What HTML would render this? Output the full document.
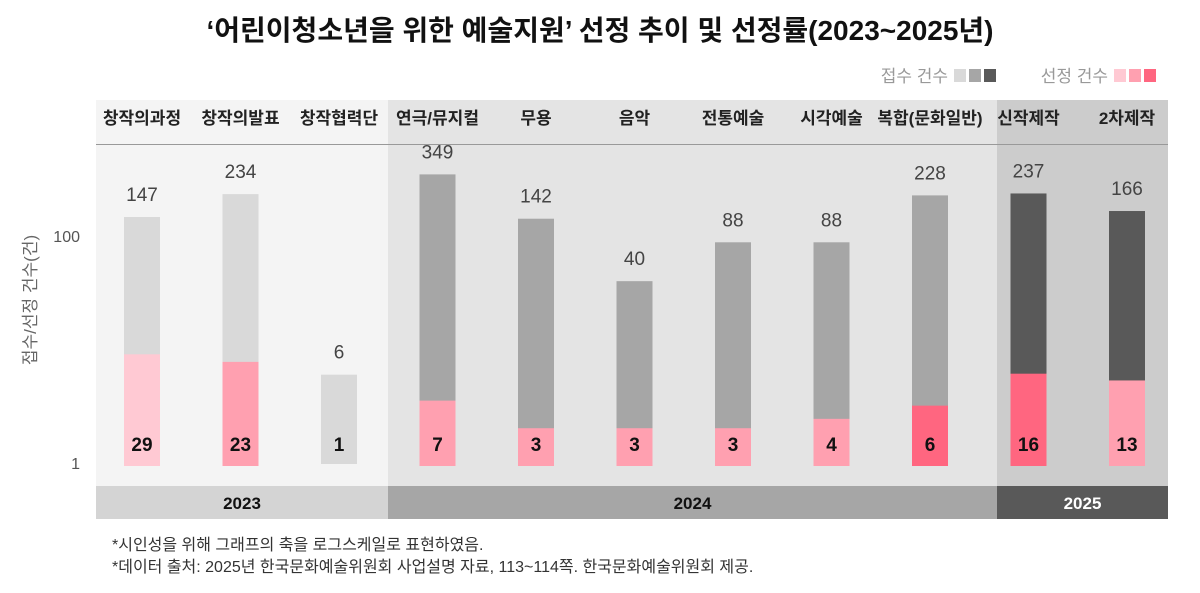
<!DOCTYPE html>
<html><head><meta charset="utf-8">
<style>
body{margin:0;background:#fff;width:1200px;height:588px;overflow:hidden;font-family:"Liberation Sans","Noto Sans CJK KR",sans-serif;}
svg text{font-family:"Liberation Sans","Noto Sans CJK KR",sans-serif;}
</style></head><body>
<svg id="chart" width="1200" height="588" viewBox="0 0 1200 588" xmlns="http://www.w3.org/2000/svg">
<text x="600" y="40" text-anchor="middle" font-size="28" font-weight="bold" fill="#111">‘어린이청소년을 위한 예술지원’ 선정 추이 및 선정률(2023~2025년)</text>
<g>
<text x="948" y="82" text-anchor="end" font-size="17" fill="#999">접수 건수</text>
<rect x="954" y="69" width="12" height="13" fill="#d9d9d9"/><rect x="969" y="69" width="12" height="13" fill="#a6a6a6"/><rect x="984" y="69" width="12" height="13" fill="#595959"/>
<text x="1108" y="82" text-anchor="end" font-size="17" fill="#999">선정 건수</text>
<rect x="1114" y="69" width="12" height="13" fill="#ffc9d3"/><rect x="1129" y="69" width="12" height="13" fill="#ffa0b0"/><rect x="1144" y="69" width="12" height="13" fill="#ff6680"/>
</g>
<g id="bg"></g>
<line x1="96" y1="144.5" x2="1168" y2="144.5" stroke="#999" stroke-width="1"/>
<g id="marks"></g>
<text transform="translate(36,300) rotate(-90)" text-anchor="middle" font-size="17" fill="#666">접수/선정 건수(건)</text>
<text x="112" y="550" font-size="16" fill="#333">*시인성을 위해 그래프의 축을 로그스케일로 표현하였음.</text>
<text x="112" y="572" font-size="16" fill="#333">*데이터 출처: 2025년 한국문화예술위원회 사업설명 자료, 113~114쪽. 한국문화예술위원회 제공.</text>
</svg>
<script>
const categories=["창작의과정","창작의발표","창작협력단","연극/뮤지컬","무용","음악","전통예술","시각예술","복합(문화일반)","신작제작","2차제작"];
const years=["2023","2023","2023","2024","2024","2024","2024","2024","2024","2025","2025"];
const receipts=[147,234,6,349,142,40,88,88,228,237,166];
const selected=[29,23,1,7,3,3,3,4,6,16,13];
const selTone=[0,1,0,1,1,1,1,1,2,2,1];
const yTicks=[1,100];
const NS="http://www.w3.org/2000/svg";
const xC=i=>142+98.5*i;
const yR=v=>463-113.5*Math.log10(v);
const selH=v=>v<=1?0:75*Math.log10(v)+2;
const panelEdges={"2023":[96,388],"2024":[388,997],"2025":[997,1168]};
const yearBg={"2023":"#f4f4f4","2024":"#e4e4e4","2025":"#cccccc"};
const yearBar={"2023":"#d4d4d4","2024":"#a6a6a6","2025":"#595959"};
const yearText={"2023":"#111","2024":"#111","2025":"#fff"};
const recCol={"2023":"#d9d9d9","2024":"#a6a6a6","2025":"#595959"};
const pinks=["#ffc9d3","#ffa0b0","#ff6680"];
function mk(t,a,p,txt){const e=document.createElementNS(NS,t);for(const k in a)e.setAttribute(k,a[k]);if(txt!==undefined)e.textContent=txt;p.appendChild(e);return e;}
const bg=document.getElementById('bg'),g=document.getElementById('marks');
Object.keys(panelEdges).forEach(y=>{
  const xa=panelEdges[y][0],w=panelEdges[y][1]-xa;
  const r=mk('rect',{x:xa,y:100,width:w,height:386,fill:yearBg[y]},bg);
  
  
  const b=mk('rect',{x:xa,y:486,width:w,height:33,fill:yearBar[y]},bg);
  
  
  const t=mk('text',{x:xa+w/2,y:509,'text-anchor':'middle','font-size':17,'font-weight':'bold',fill:yearText[y]},bg,y);
  
  
});
yTicks.forEach(v=>{const t=mk('text',{x:80,y:yR(v)+6,'text-anchor':'end','font-size':16,fill:'#555'},g,String(v));
  
  });
const bw=36;
categories.forEach((c,i)=>{
  const cx=xC(i);
  const h=mk('text',{x:cx,y:124,'text-anchor':'middle','font-size':17,'font-weight':'bold',fill:'#222'},g,c);
  
  
  const top=yR(receipts[i]);
  const r=mk('rect',{x:cx-bw/2,y:top,width:bw,height:464-top,fill:recCol[years[i]]},g);
  
  
  const sh=selH(selected[i]);
  if(sh>0){const p=mk('rect',{x:cx-bw/2,y:466-sh,width:bw,height:sh,fill:pinks[selTone[i]]},g);
    
    }
  const rl=mk('text',{x:cx,y:top-16,'text-anchor':'middle','font-size':19,fill:'#444'},g,String(receipts[i]));
  
  
  const sl=mk('text',{x:cx,y:451,'text-anchor':'middle','font-size':19,'font-weight':'bold',fill:'#111'},g,String(selected[i]));
  
  
});
</script>
</body></html>
